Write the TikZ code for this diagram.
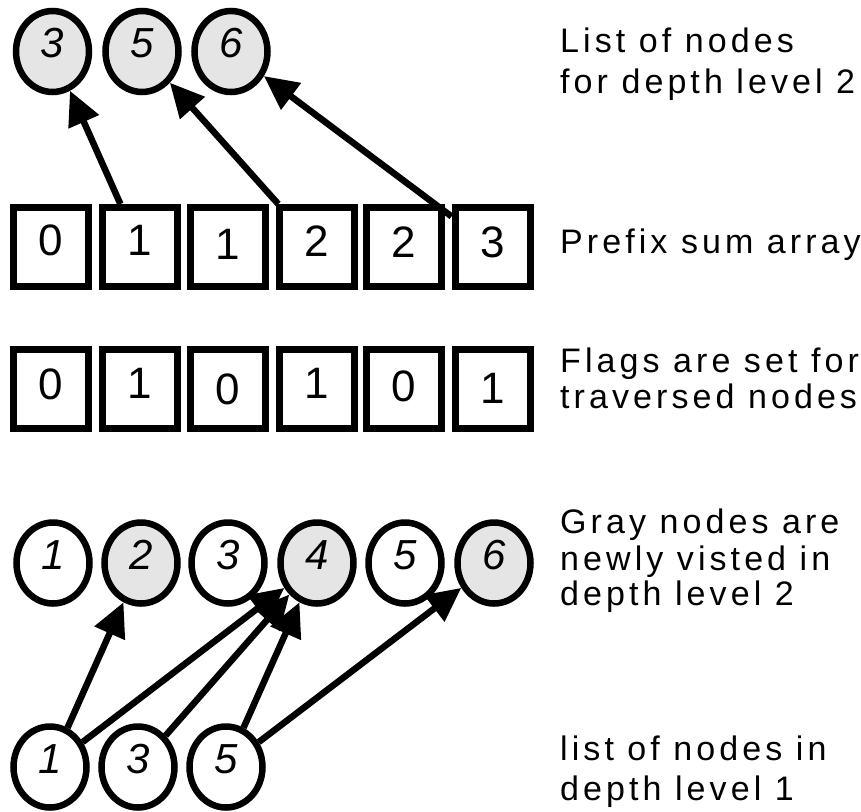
\documentclass[tikz,border=0pt]{standalone}
\usepackage{fontspec}
\setmainfont{Liberation Sans}
\newfontfamily\notefamily[LetterSpace=12]{Liberation Sans}
\usetikzlibrary{shapes.geometric,arrows.meta}

\tikzset{
  vertex/.style={ellipse, draw, line width=6.5pt, minimum width=73pt, minimum height=81pt,
    inner sep=0pt, text height=12pt, text depth=0pt, font=\fontsize{42}{42}\selectfont\itshape},
  visited/.style={vertex, fill=black!10},
  cell/.style={rectangle, draw, line width=7pt, minimum width=75pt, minimum height=79pt,
    inner sep=0pt, text height=20pt, text depth=0pt, font=\fontsize{44}{44}\selectfont},
  link/.style={line width=6.5pt, -{Triangle[length=34pt,width=32pt]}},
  note/.style={anchor=base west, align=left, inner sep=0pt, font=\notefamily\fontsize{34}{37}\selectfont},
}

\begin{document}
\begin{tikzpicture}[x=1pt,y=-1pt]
\useasboundingbox (0,0) rectangle (861,811);

% nodes for depth level 2
\foreach \v/\x in {3/52.5,5/142,6/231}
  \node[visited] (q\v) at (\x,51.5) {\v};

% prefix sums and flags
\foreach \i/\x/\s/\rs/\f/\rf in {1/51/0/2/0/0, 2/139.5/1/2/1/1, 3/227.5/1/-2/0/-5,
    4/316.5/2/1/1/1, 5/404/2/0/0/-2, 6/492.5/3/0/1/-4} {
  \node[cell] (s\i) at (\x,247) {\raisebox{\rs pt}{\s}};
  \node[cell] (g\i) at (\x,389) {\raisebox{\rf pt}{\f}};
}

% depth level 1 and all nodes
\foreach \v/\x in {1/53,3/228,5/405}
  \node[vertex] (v\v) at (\x,563) {\v};
\foreach \v/\x in {2/141,4/317,6/494}
  \node[visited] (v\v) at (\x,563) {\v};
\foreach \v/\x in {1/50,3/138,5/226}
  \node[vertex] (f\v) at (\x,767) {\v};

% arrows
\draw[link] (s2) -- (q3);
\draw[link] (s4) -- (q5);
\draw[link] (s6) -- (q6);
\foreach \a/\b in {1/2,1/4,3/4,5/4,5/6}
  \draw[link] (f\a) -- (v\b);

% notes (anchored on the last line)
\node[note] (lvl2note) at (560,93) {List of nodes\\[4pt]for depth level 2};
\node[note] (sumnote) at (560,253) {Prefix sum array};
\node[note] (flagnote) at (560,408) {Flags are set for\\[-1pt]traversed nodes};
\node[note] (graynote) at (560,605) {Gray nodes are\\newly visted in\\[-2pt]depth level 2};
\node[note] (lvl1note) at (560,800) {list of nodes in\\[3pt]depth level 1};
\end{tikzpicture}
\end{document}
